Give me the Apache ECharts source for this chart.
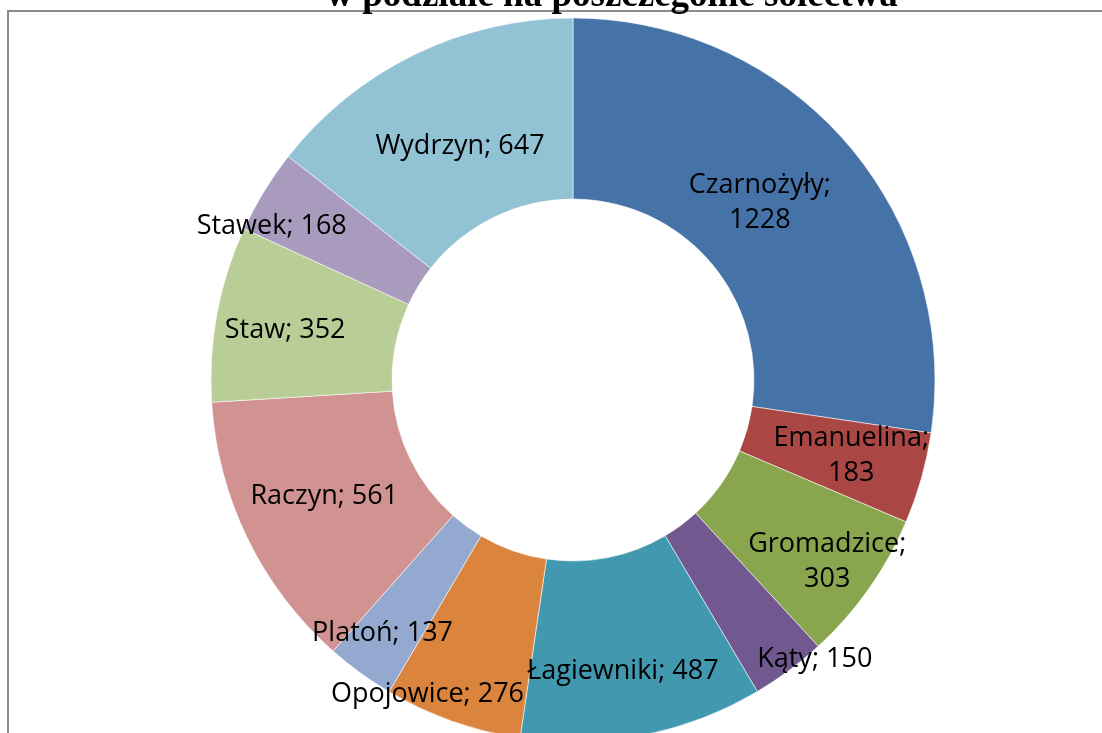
<!DOCTYPE html>
<html>
<head>
<meta charset="utf-8">
<script src="https://cdn.jsdelivr.net/npm/echarts@6/dist/echarts.min.js"></script>
<style>html,body{margin:0;padding:0;background:#fff}#c{width:1102px;height:733px}</style>
</head>
<body>
<div id="c"></div>
<script>
const titleText = 'w podziale na poszczególne sołectwa';
const categories = ['Czarnożyły', 'Emanuelina', 'Gromadzice', 'Kąty', 'Łagiewniki', 'Opojowice', 'Platoń', 'Raczyn', 'Staw', 'Stawek', 'Wydrzyn'];
const values = [1228, 183, 303, 150, 487, 276, 137, 561, 352, 168, 647];
const wrapLabel = [true, true, true, false, false, false, false, false, false, false, false];
const colors = ['#4572A7', '#AA4643', '#89A54E', '#71588F', '#4198AF', '#DB843D', '#93A9CF', '#D19392', '#B9CD96', '#A99BBD', '#92C3D5'];
// label nudges (Excel best-fit placement)
const labelShift = [[-21,2],[14,1],[30,23],[78,59],[-3,22],[-54,56],[-29,31],[-2,-4],[-18,1],[-67,-11],[7,13]];

const chart = echarts.init(document.getElementById('c'), null, {renderer: 'canvas'});
chart.setOption({
  animation: false,
  color: colors,
  graphic: [
    {type: 'rect', z: 0, shape: {x: 8, y: 11, width: 1200, height: 900},
     style: {fill: 'none', stroke: '#8c8c8c', lineWidth: 2}},
    {type: 'text', z: 100, x: 612, y: -4,
     style: {text: titleText, font: 'bold 37px "Liberation Serif"', fill: '#000',
             textAlign: 'center', textVerticalAlign: 'middle'}}
  ],
  series: [{
    type: 'pie',
    center: [573, 380],
    radius: [181, 362],
    startAngle: 90,
    clockwise: true,
    avoidLabelOverlap: false,
    z: 2,
    itemStyle: {borderColor: 'rgba(255,255,255,0.7)', borderWidth: 0.8},
    label: {
      show: true,
      position: 'inside',
      fontFamily: '"Open Sans"',
      fontSize: 27,
      lineHeight: 35,
      color: '#000',
      align: 'center',
      formatter: p => wrapLabel[p.dataIndex] ? p.name + ';\n' + p.value : p.name + '; ' + p.value
    },
    labelLine: {show: false},
    labelLayout: p => ({dx: labelShift[p.dataIndex][0], dy: labelShift[p.dataIndex][1]}),
    emphasis: {disabled: true},
    data: categories.map((c, i) => ({name: c, value: values[i]}))
  }]
});
</script>
</body>
</html>
